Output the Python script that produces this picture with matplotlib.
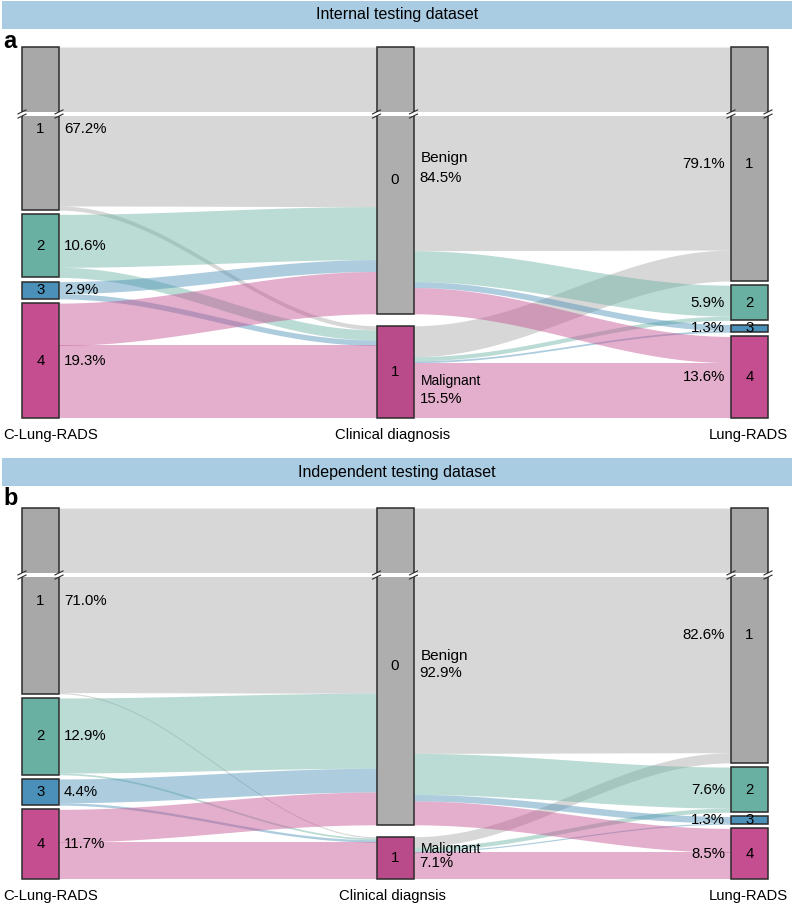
import numpy as np
import matplotlib.pyplot as plt
from matplotlib.patches import Rectangle

plt.rcParams['font.family'] = ['Liberation Sans', 'DejaVu Sans']

# categories
rads = ['1', '2', '3', '4']
diag = ['0', '1']
diag_names = ['Benign', 'Malignant']
col_titles_a = ['C-Lung-RADS', 'Clinical diagnosis', 'Lung-RADS']
col_titles_b = ['C-Lung-RADS', 'Clinical diagnsis', 'Lung-RADS']

# panel a - internal testing dataset, % of nodules
# rows: C-Lung-RADS 1..4, cols: benign, malignant
a_crads_to_dx = [[66.5, 0.7], [8.9, 1.7], [2.0, 0.9], [7.1, 12.2]]
# rows: Lung-RADS 1..4, cols: benign, malignant
a_dx_to_rads = [[73.9, 5.2], [5.2, 0.7], [1.0, 0.3], [4.4, 9.3]]
a_crads_pct = ['67.2%', '10.6%', '2.9%', '19.3%']
a_dx_pct = ['84.5%', '15.5%']
a_rads_pct = ['79.1%', '5.9%', '1.3%', '13.6%']

# panel b - independent testing dataset
b_crads_to_dx = [[70.8, 0.2], [12.6, 0.3], [4.0, 0.4], [5.5, 6.2]]
b_dx_to_rads = [[80.9, 1.7], [6.9, 0.7], [1.1, 0.2], [4.0, 4.5]]
b_crads_pct = ['71.0%', '12.9%', '4.4%', '11.7%']
b_dx_pct = ['92.9%', '7.1%']
b_rads_pct = ['82.6%', '7.6%', '1.3%', '8.5%']

rads_colors = ['#A8A8A8', '#6AB0A2', '#4A90B8', '#C44E8F']
dx_colors = ['#AEAEAE', '#BA4B8A']
FLOW_ALPHA = 0.45

W, H = 794, 905
TOP = 62.3      # displayed height (% units)
BRK = 50.7      # start of axis break
BGAP = 0.7      # white gap of the break
PX = TOP / 371  # y units per pixel
XPX = 1 / 746
NW = 37 * XPX
COLX = [0.0, 0.5 - NW / 2, 1.0 - NW]
FS = 10.8


def stack(sizes, gap):
    out = [None] * len(sizes)
    y = 0
    for i in reversed(range(len(sizes))):
        out[i] = (y, y + sizes[i])
        y += sizes[i] + gap
    return out


def make_map(top_true):
    c = top_true - (TOP - BRK - BGAP)
    return lambda y: y if y <= BRK + 1e-9 else BRK + BGAP + (y - c)


def band(ax, x0, x1, b0, t0, b1, t1, color):
    t = np.linspace(0, 1, 120)
    s = (1 - np.cos(np.pi * t)) / 2
    x = x0 + (x1 - x0) * t
    ax.fill_between(x, b0 + (b1 - b0) * s, t0 + (t1 - t0) * s,
                    color=color, alpha=FLOW_ALPHA, lw=0, zorder=1)


def draw_panel(ax, crads_to_dx, dx_to_rads, lpct, mpct, rpct, titles, mid_offsets):
    f1 = np.array(crads_to_dx)
    f2 = np.array(dx_to_rads)
    left = stack(f1.sum(axis=1), 0.7)
    mid = stack(f1.sum(axis=0), 2.0)
    right = stack(f2.sum(axis=1), 0.7)
    maps = [make_map(left[0][1]), make_map(mid[0][1]), make_map(right[0][1])]

    # left -> middle flows
    lcur = [n[1] for n in left]
    mcur = [n[1] for n in mid]
    seg_l, seg_m = {}, {}
    for i in range(4):
        for j in range(2):
            v = f1[i, j]
            seg_l[i, j] = (lcur[i] - v, lcur[i])
            lcur[i] -= v
    for j in range(2):
        for i in range(4):
            v = f1[i, j]
            seg_m[i, j] = (mcur[j] - v, mcur[j])
            mcur[j] -= v
    for i in range(4):
        for j in range(2):
            if f1[i, j] <= 0:
                continue
            lb, lt = seg_l[i, j]
            mb, mt = seg_m[i, j]
            band(ax, COLX[0] + NW, COLX[1], maps[0](lb), maps[0](lt),
                 maps[1](mb), maps[1](mt), rads_colors[i])

    # middle -> right flows
    mcur = [n[1] for n in mid]
    rcur = [n[1] for n in right]
    seg_m, seg_r = {}, {}
    for j in range(2):
        for k in range(4):
            v = f2[k, j]
            seg_m[k, j] = (mcur[j] - v, mcur[j])
            mcur[j] -= v
    for k in range(4):
        for j in range(2):
            v = f2[k, j]
            seg_r[k, j] = (rcur[k] - v, rcur[k])
            rcur[k] -= v
    for k in range(4):
        for j in range(2):
            mb, mt = seg_m[k, j]
            rb, rt = seg_r[k, j]
            band(ax, COLX[1] + NW, COLX[2], maps[1](mb), maps[1](mt),
                 maps[2](rb), maps[2](rt), rads_colors[k])

    # nodes
    centers = []
    for c, (nodes, cols, labels) in enumerate([(left, rads_colors, rads),
                                                (mid, dx_colors, diag),
                                                (right, rads_colors, rads)]):
        cc = []
        for (b, t), col, lab in zip(nodes, cols, labels):
            yb, yt = maps[c](b), maps[c](t)
            ax.add_patch(Rectangle((COLX[c], yb), NW, yt - yb, fc=col,
                                   ec='#2b2b2b', lw=1.1, zorder=3, clip_on=False))
            ym = (yb + yt) / 2
            cc.append(ym)
            ax.text(COLX[c] + NW / 2, ym, lab, ha='center', va='center',
                    fontsize=FS, zorder=6)
        centers.append(cc)

    # axis break
    ax.add_patch(Rectangle((-0.02, BRK), 1.04, BGAP, fc='white', ec='none',
                           zorder=4, clip_on=False))
    for c in range(3):
        for xe in (COLX[c], COLX[c] + NW):
            for ye in (BRK, BRK + BGAP):
                ax.plot([xe - 4 * XPX, xe + 4 * XPX], [ye - 2 * PX, ye + 2 * PX],
                        color='#2b2b2b', lw=0.8, zorder=5, clip_on=False)

    # percentage labels
    for ym, p in zip(centers[0], lpct):
        ax.text(COLX[0] + NW + 5 * XPX, ym, p, ha='left', va='center', fontsize=FS, zorder=6)
    for ym, p in zip(centers[2], rpct):
        ax.text(COLX[2] - 6 * XPX, ym, p, ha='right', va='center', fontsize=FS, zorder=6)
    name_fs = [11, 10]
    for j in range(2):
        dn, dp = mid_offsets[j]
        ax.text(COLX[1] + NW + 7 * XPX, centers[1][j] - dn * PX, diag_names[j],
                ha='left', va='center', fontsize=name_fs[j], zorder=6)
        ax.text(COLX[1] + NW + 6 * XPX, centers[1][j] - dp * PX, mpct[j],
                ha='left', va='center', fontsize=FS, zorder=6)

    # column titles
    ty = -17 * PX
    ax.text(-19 * XPX, ty, titles[0], ha='left', va='center', fontsize=10.7, clip_on=False)
    ax.text(0.497, ty, titles[1], ha='center', va='center', fontsize=10.7, clip_on=False)
    ax.text(1.0 - NW / 2 - 0.001, ty, titles[2], ha='center', va='center', fontsize=10.7, clip_on=False)

    ax.set_xlim(0, 1)
    ax.set_ylim(0, TOP)
    ax.axis('off')


fig = plt.figure(figsize=(W / 100, H / 100), dpi=100)

panels = [
    (1, 29, 418, 'Internal testing dataset', 'a',
     a_crads_to_dx, a_dx_to_rads, a_crads_pct, a_dx_pct, a_rads_pct, col_titles_a,
     [(-22.5, -2.5), (9, 27)]),
    (458, 486, 879, 'Independent testing dataset', 'b',
     b_crads_to_dx, b_dx_to_rads, b_crads_pct, b_dx_pct, b_rads_pct, col_titles_b,
     [(-10, 7), (-8.5, 5.5)]),
]

for (hy0, hy1, bot, title, letter, f1, f2, lp, mp, rp, tt, offs) in panels:
    fig.patches.append(Rectangle((2 / W, 1 - hy1 / H), 790 / W, (hy1 - hy0) / H,
                                 transform=fig.transFigure, fc='#A9CCE3', ec='none'))
    fig.text(397 / W, 1 - (hy0 + hy1) / 2 / H, title, ha='center', va='center', fontsize=11.5)
    fig.text(3 / W, 1 - (hy1 + 12) / H, letter, ha='left', va='center',
             fontsize=17, fontweight='bold')
    ax = fig.add_axes([22 / W, (H - bot) / H, 746 / W, 371 / H])
    draw_panel(ax, f1, f2, lp, mp, rp, tt, offs)

fig.savefig('out.png', dpi=100)
